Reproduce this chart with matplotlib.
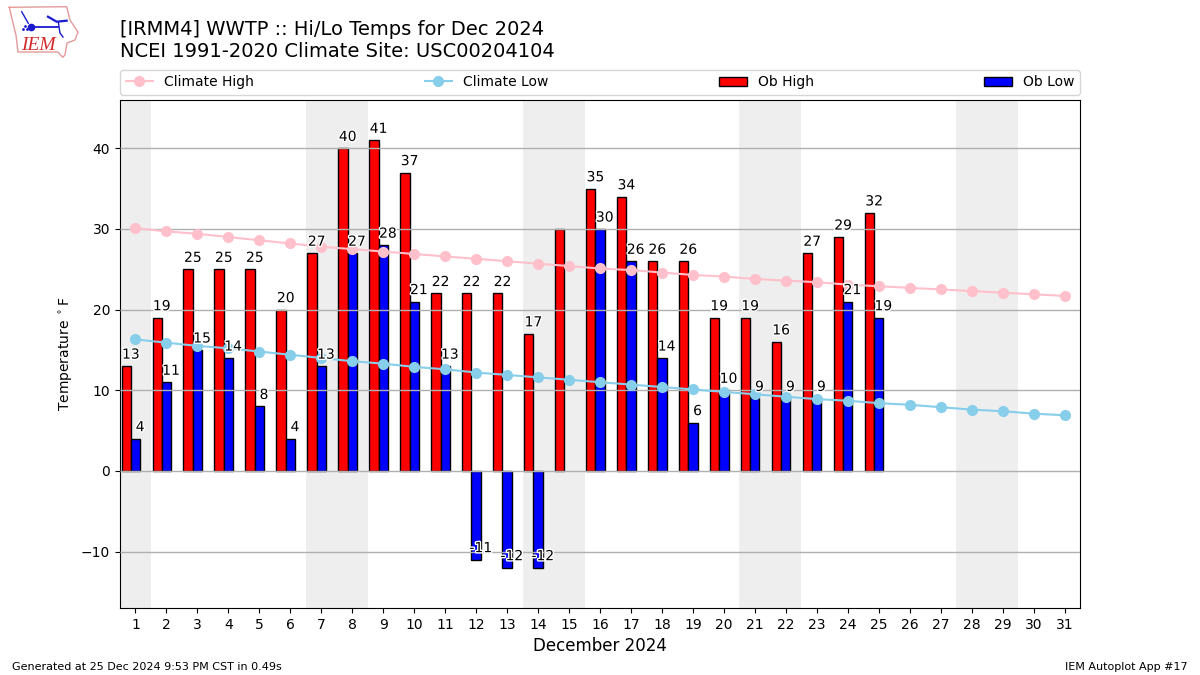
# Import libraries
import matplotlib.pyplot as plt, numpy as np
import matplotlib.patheffects as PathEffects

# Observed daily temps, December 2024 (no obs after the 25th)
days = np.arange(1, 32)
ob_days = np.arange(1, 26)
ob_high = [13, 19, 25, 25, 25, 20, 27, 40, 41, 37, 22, 22, 22, 17, 30, 35, 34, 26, 26, 19, 19, 16, 27, 29, 32]
ob_low = [4, 11, 15, 14, 8, 4, 13, 27, 28, 21, 13, -11, -12, -12, None, 30, 26, 14, 6, 10, 9, 9, 9, 21, 19]

# Climatology
clim_high = [30.1, 29.7, 29.4, 29.0, 28.6, 28.2, 27.8, 27.5, 27.2, 26.9, 26.6, 26.3, 26.0, 25.7, 25.4, 25.1,
             24.9, 24.6, 24.3, 24.1, 23.8, 23.6, 23.4, 23.1, 22.9, 22.7, 22.5, 22.3, 22.1, 21.9, 21.7]
clim_low = [16.3, 15.9, 15.5, 15.2, 14.8, 14.4, 14.0, 13.6, 13.3, 12.9, 12.6, 12.2, 11.9, 11.6, 11.3, 11.0,
            10.7, 10.4, 10.1, 9.8, 9.5, 9.2, 8.9, 8.7, 8.4, 8.2, 7.9, 7.6, 7.4, 7.1, 6.9]

# Weekend shading
weekends = [(0.5, 1.5), (6.5, 8.5), (13.5, 15.5), (20.5, 22.5), (27.5, 29.5)]

fig = plt.figure(figsize=(12, 6.75), dpi=100)
ax = fig.add_axes([0.1, 0.0993, 0.8, 0.7526])

for a, b in weekends:
    ax.axvspan(a, b, color='#eeeeee', lw=0, zorder=0)

w = 0.3
ax.bar(ob_days - w, ob_high, width=w, color='r', edgecolor='k', linewidth=1, label='Ob High', zorder=2)
low_vals = [np.nan if v is None else v for v in ob_low]
ax.bar(ob_days, low_vals, width=w, color='b', edgecolor='k', linewidth=1, label='Ob Low', zorder=2)
ax.plot(days, clim_high, color='pink', marker='o', markersize=7, lw=1.5, label='Climate High', zorder=4)
ax.plot(days, clim_low, color='skyblue', marker='o', markersize=7, lw=1.5, label='Climate Low', zorder=4)

ax.grid(axis='y', color='#b0b0b0', lw=1, zorder=3)
ax.set_axisbelow(False)

# Value labels, white halo
halo = [PathEffects.withStroke(linewidth=2, foreground='white')]
for d, h, l in zip(ob_days, ob_high, ob_low):
    if d != 15:
        ax.text(d - 0.15, h + 0.55, str(h), ha='center', va='bottom', fontsize=10, path_effects=halo, zorder=5)
    if l is not None:
        ax.text(d + 0.15, l + 0.55, str(l), ha='center', va='bottom', fontsize=10, path_effects=halo, zorder=5)

ax.set_xlim(0.5, 31.5)
ax.set_ylim(-17, 46)
ax.set_xticks(days)
ax.set_ylabel(r'Temperature $^\circ$F')
ax.set_xlabel('December 2024', fontsize=12)

handles, labels = ax.get_legend_handles_labels()
order = [labels.index(s) for s in ['Climate High', 'Climate Low', 'Ob High', 'Ob Low']]
ax.legend([handles[i] for i in order], [labels[i] for i in order], loc='lower left',
          bbox_to_anchor=(0, 1.01, 1, 0.05), ncol=4, mode='expand', borderaxespad=0, fontsize=10)

# Titles and footers
fig.text(0.1, 0.9096, '[IRMM4] WWTP :: Hi/Lo Temps for Dec 2024\nNCEI 1991-2020 Climate Site: USC00204104',
         fontsize=14, va='bottom', ha='left', linespacing=1.2)
fig.text(0.01, 0.0045, 'Generated at 25 Dec 2024 9:53 PM CST in 0.49s', fontsize=8, va='bottom')
fig.text(0.99, 0.0045, 'IEM Autoplot App #17', fontsize=8, va='bottom', ha='right')

# IEM logo, pixel coordinates of the figure
logo = fig.add_axes([0, 0.9111, 0.0708, 0.0889])
logo.set_xlim(0, 85)
logo.set_ylim(60, 0)
logo.axis('off')
logo.plot([9.3, 66.7, 70, 78, 75, 67, 65, 62.7, 58, 18, 16, 13, 9.3],
          [7.3, 6.7, 20, 32, 40, 43, 55, 57.3, 52, 52, 35, 23, 7.3], color='#e59a9a', lw=1)
logo.plot([21.7, 28.3], [11.7, 23.3], color='#1a1ad0', lw=1)
logo.plot([31, 58], [26.7, 26.7], color='#1a1ad0', lw=1.3)
logo.plot([31], [26.7], 'o', color='#1a1ad0', ms=4.5)
logo.plot([48, 56.7, 66.7], [16.7, 21.7, 20.7], color='#1a1ad0', lw=1.6)
logo.plot([58.3, 60, 63], [21.7, 33, 37], color='#1a1ad0', lw=1)
logo.plot([23, 25, 27], [28.5, 26, 28.5], '.', color='#1a1ad0', ms=2)
logo.text(21, 45, 'IEM', color='#d42a2a', fontsize=14, family='Liberation Serif', style='italic', va='center')

fig.savefig('out.png', dpi=100)
